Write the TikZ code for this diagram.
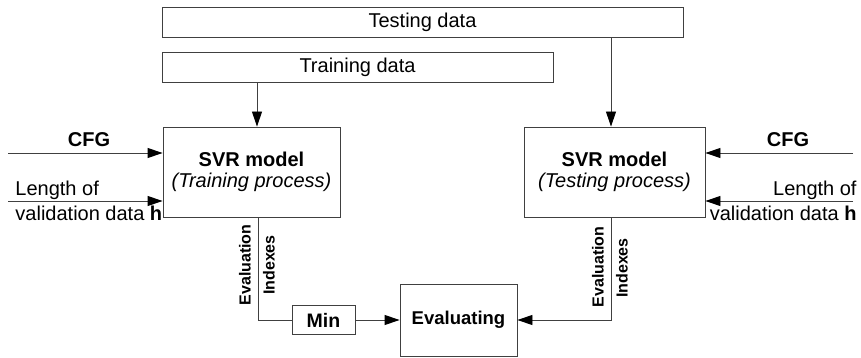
\documentclass[tikz,border=0pt]{standalone}
\usepackage{fontspec}
\setmainfont{Liberation Sans}
\usetikzlibrary{arrows.meta}
\begin{document}
\begin{tikzpicture}[x=1pt,y=-1pt,
  line width=0.9pt,
  box/.style={draw=black!75, inner sep=0pt, font=\fontsize{20}{21}\selectfont, align=center},
  arr/.style={draw=black!75, -{Triangle[length=15pt,width=10pt,fill=black,color=black]}},
  ln/.style={draw=black!75},
  txt/.style={inner sep=0pt, font=\fontsize{20}{21}\selectfont},
  vlab/.style={inner sep=0pt, rotate=90, font=\fontsize{16}{17}\selectfont\bfseries}]
\useasboundingbox (0,0) rectangle (861,358);
\node[box, minimum width=521pt, minimum height=30pt] (test) at (422.5,22) {Testing data};
\node[box, minimum width=391pt, minimum height=30pt] (train) at (357.5,67) {Training data};
\node[box, minimum width=177pt, minimum height=90pt] (svrL) at (251.5,172) {\textbf{SVR model}\\\textit{(Training process)}};
\node[box, minimum width=181pt, minimum height=90pt] (svrR) at (614.5,172) {\textbf{SVR model}\\\textit{(Testing process)}};
\node[box, minimum width=63pt, minimum height=29pt, font=\fontsize{19.5}{21}\selectfont\bfseries] (min) at (323.5,320) {Min};
\node[box, minimum width=117pt, minimum height=72pt, font=\fontsize{18.5}{21}\selectfont\bfseries] (eval) at (458.5,320) {Evaluating};
% inputs left
\coordinate (cfgL) at (8,153);
\coordinate (lenL) at (8,201);
\node[txt, font=\fontsize{20}{21}\selectfont\bfseries] (cfgLt) at (89,140) {CFG};
\node[txt, anchor=west] (lenL1) at (15,190) {Length of};
\node[txt, anchor=west] (lenL2) at (15,213) {validation data \textbf{h}};
\draw[arr] (cfgL) -- (cfgL -| svrL.west);
\draw[arr] (lenL) -- (lenL -| svrL.west);
% inputs right
\coordinate (cfgR) at (853,153);
\coordinate (lenR) at (853,201);
\node[txt, font=\fontsize{20}{21}\selectfont\bfseries] (cfgRt) at (788,140) {CFG};
\node[txt, anchor=east] (lenR1) at (857,190) {Length of};
\node[txt, anchor=east] (lenR2) at (857,213) {validation data \textbf{h}};
\draw[arr] (cfgR) -- (cfgR -| svrR.east);
\draw[arr] (lenR) -- (lenR -| svrR.east);
% data arrows
\coordinate (xa) at (257,0);
\coordinate (xb) at (611,0);
\draw[arr] (train.south -| xa) -- (svrL.north -| xa);
\draw[arr] (test.south -| xb) -- (svrR.north -| xb);
% outputs
\coordinate (xc) at (258,0);
\draw[ln] (svrL.south -| xc) |- (min.west);
\draw[arr] (min.east) -- (eval.west);
\draw[arr] (svrR.south -| xb) |- (eval.east);
\node[vlab] (evL) at (245,265) {Evaluation};
\node[vlab] (inL) at (269,265) {Indexes};
\node[vlab] (evR) at (598,267) {Evaluation};
\node[vlab] (inR) at (622,268) {Indexes};
\end{tikzpicture}
\end{document}
